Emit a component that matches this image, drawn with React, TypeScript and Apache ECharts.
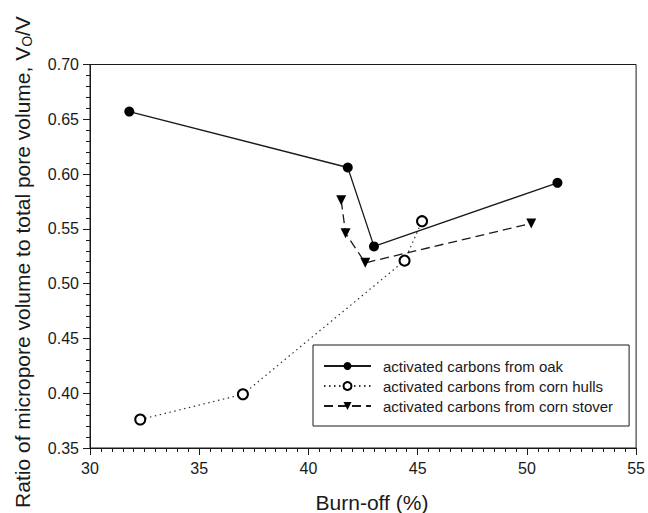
import React, { useEffect, useRef } from "react";
import * as echarts from "echarts";

// Burn-off (%) and micropore / total pore volume ratio for each precursor
const oakBurnOff = [31.8, 41.8, 43.0, 51.4];
const oakRatio = [0.657, 0.606, 0.534, 0.592];

const hullsBurnOff = [32.3, 37.0, 44.4, 45.2];
const hullsRatio = [0.376, 0.399, 0.521, 0.557];

const stoverBurnOff = [41.5, 41.7, 42.6, 50.2];
const stoverRatio = [0.576, 0.546, 0.519, 0.555];

const seriesNames = [
  "activated carbons from oak",
  "activated carbons from corn hulls",
  "activated carbons from corn stover",
];

const xTitle = "Burn-off (%)";
const yTitle = "Ratio of micropore volume to total pore volume, V{sub|O}/V";

const FONT = "'Liberation Sans', Arial, Helvetica, sans-serif";
const INK = "#1a1a1a";

const pairs = (xs: number[], ys: number[]) => xs.map((x, i) => [x, ys[i]]);

export default function App() {
  const ref = useRef<HTMLDivElement>(null);

  useEffect(() => {
    document.body.style.margin = "0";
    if (!ref.current) return;
    const chart = echarts.init(ref.current, null, { renderer: "svg" });

    const axisCommon = {
      axisLine: { show: true, lineStyle: { color: INK, width: 1 } },
      axisTick: { show: true, inside: false, length: 7, lineStyle: { color: INK } },
      minorTick: { show: true, length: 4, lineStyle: { color: INK } },
      splitLine: { show: false },
    };

    chart.setOption({
      animation: false,
      backgroundColor: "#ffffff",
      grid: {
        left: 90,
        right: 10,
        top: 64.5,
        bottom: 65,
        show: true,
        borderColor: INK,
        borderWidth: 1,
        backgroundColor: "transparent",
      },
      xAxis: {
        type: "value",
        min: 30,
        max: 55,
        interval: 5,
        ...axisCommon,
        minorTick: { ...axisCommon.minorTick, splitNumber: 10 },
        axisLabel: { fontSize: 16, color: INK, fontFamily: FONT, margin: 12 },
      },
      yAxis: {
        type: "value",
        min: 0.35,
        max: 0.7,
        interval: 0.05,
        ...axisCommon,
        minorTick: { ...axisCommon.minorTick, splitNumber: 5 },
        axisLabel: {
          fontSize: 16,
          color: INK,
          fontFamily: FONT,
          margin: 11,
          formatter: (v: number) => v.toFixed(2),
        },
      },
      legend: {
        orient: "vertical",
        left: 313,
        top: 345,
        padding: [11, 16, 10, 10],
        borderColor: INK,
        borderWidth: 1,
        itemWidth: 47,
        itemHeight: 10,
        itemGap: 0,
        textStyle: {
          fontSize: 15,
          lineHeight: 20,
          color: INK,
          fontFamily: FONT,
          padding: [0, 0, 0, 7],
        },
        data: seriesNames,
      },
      graphic: [
        {
          type: "text",
          x: 372,
          y: 502,
          style: {
            text: xTitle,
            font: `21px ${FONT}`,
            fill: INK,
            textAlign: "center",
            textVerticalAlign: "middle",
          },
        },
        {
          type: "text",
          x: 22,
          y: 262,
          rotation: Math.PI / 2,
          style: {
            text: yTitle,
            fontSize: 21,
            fontFamily: FONT,
            fill: INK,
            align: "center",
            verticalAlign: "middle",
            rich: {
              sub: {
                fontSize: 14,
                fontFamily: FONT,
                fill: INK,
                verticalAlign: "bottom",
                padding: [9, 0, 0, 0],
              },
            },
          },
        },
      ],
      series: [
        {
          name: seriesNames[0],
          type: "line",
          data: pairs(oakBurnOff, oakRatio),
          symbol: "circle",
          symbolSize: 10,
          itemStyle: { color: "#000" },
          lineStyle: { color: INK, width: 1.3, type: "solid" },
          z: 3,
        },
        {
          name: seriesNames[1],
          type: "line",
          data: pairs(hullsBurnOff, hullsRatio),
          symbol: "emptyCircle",
          symbolSize: 10,
          itemStyle: { color: "#000", borderColor: "#000", borderWidth: 1.2 },
          lineStyle: { color: "#333", width: 1.2, type: [1.5, 3.5] },
          z: 2,
        },
        {
          name: seriesNames[2],
          type: "line",
          data: pairs(stoverBurnOff, stoverRatio),
          symbol: "triangle",
          symbolRotate: 180,
          symbolSize: 10,
          itemStyle: { color: "#000" },
          lineStyle: { color: INK, width: 1.3, type: [9, 5] },
          z: 4,
        },
      ],
    });

    return () => chart.dispose();
  }, []);

  return <div ref={ref} style={{ width: 648, height: 513 }} />;
}
